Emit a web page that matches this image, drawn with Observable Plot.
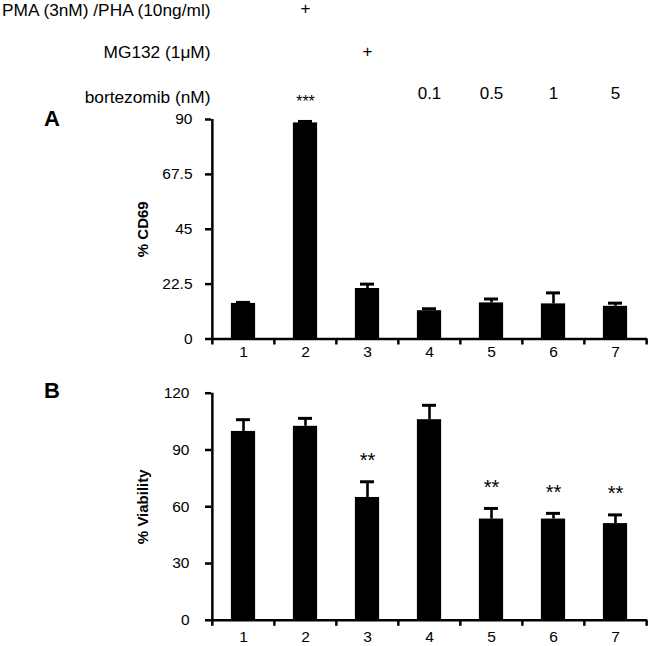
<!DOCTYPE html>
<html><head><meta charset="utf-8">
<script src="https://cdn.jsdelivr.net/npm/d3@7"></script>
<script src="https://cdn.jsdelivr.net/npm/@observablehq/plot@0.6"></script>
<style>
body{margin:0;background:#fff;}
#chart svg{display:block;}
#chart g[aria-label$="tick label"]{font-size:15.5px;}
</style></head><body><div id="chart"></div>
<script>
const categories = ["1","2","3","4","5","6","7"];
const cd69 = [14.6, 88.6, 20.7, 11.6, 14.8, 14.4, 13.4];
const cd69Err = [0.4, 0.6, 1.8, 0.8, 1.6, 4.5, 1.3];
const viability = [99.8, 102.5, 64.9, 106.0, 53.5, 53.5, 51.1];
const viabilityErr = [6.2, 4.2, 8.3, 7.6, 5.6, 3.0, 4.6];
const cd69Ticks = [0, 22.5, 45, 67.5, 90];
const viabilityTicks = [0, 30, 60, 90, 120];
const rowLabels = ["PMA (3nM) /PHA (10ng/ml)", "MG132 (1μM)", "bortezomib (nM)"];
const pmaRow = ["", "+", "", "", "", "", ""];
const mg132Row = ["", "", "+", "", "", "", ""];
const bortezomibRow = ["", "", "", "0.1", "0.5", "1", "5"];
const sigA = ["", "***", "", "", "", "", ""];
const sigB = ["", "", "**", "", "**", "**", "**"];

const W = 652, ML = 211, MR = 5;
const half = (W - ML - MR) / 7 / 2;
const font = "'Liberation Sans', Arial, sans-serif";

function panel({values, errs, sig, ticks, ymax, title, letter, height, marginTop, marginBottom,
                letterDy, labelPad, tickPad, sigSize, sigDy, extra = []}) {
  const data = categories.map((c, i) => ({cat: c, v: values[i], e: errs[i], s: sig[i]}));
  return Plot.plot({
    width: W, height, marginLeft: ML, marginRight: MR, marginTop, marginBottom,
    style: {fontFamily: font, fontSize: "15.5px", color: "black", background: "white", overflow: "visible"},
    x: {domain: categories, padding: 0, label: null},
    y: {domain: [0, ymax], label: null},
    marks: [
      Plot.barY(data, {x: "cat", y: "v", fill: "black", insetLeft: 18.9, insetRight: 18.9}),
      Plot.ruleX(data, {x: "cat", y1: "v", y2: d => d.v + d.e, stroke: "black", strokeWidth: 2.6}),
      Plot.tickY(data, {x: "cat", y: d => d.v + d.e, stroke: "black", strokeWidth: 3, insetLeft: 24, insetRight: 24}),
      Plot.ruleY([0], {stroke: "black", strokeWidth: 2.5}),
      Plot.ruleX([categories[0]], {dx: -half, stroke: "black", strokeWidth: 2.5}),
      Plot.axisX({tickSize: 6, tickFormat: () => "", dx: -half, strokeWidth: 2.5, label: null}),
      Plot.axisX([categories[6]], {tickSize: 6, tickFormat: () => "", dx: half, strokeWidth: 2.5, label: null}),
      Plot.axisX({tickSize: 0, tickPadding: labelPad, fontSize: 15.5, label: null}),
      Plot.axisY(ticks, {tickSize: 6, tickPadding: tickPad, strokeWidth: 2.5, fontSize: 15.5, tickFormat: d => String(d), label: null}),
      Plot.text([title], {frameAnchor: "left", dx: -68, rotate: -90, fontWeight: "bold", fontSize: 15, textAnchor: "middle"}),
      Plot.text([letter], {frameAnchor: "top-left", dx: -159.5, dy: letterDy, lineAnchor: "bottom", fontSize: 22, fontWeight: "bold", textAnchor: "middle"}),
      Plot.text(data, {x: "cat", y: d => d.v + d.e, text: "s", dy: sigDy, fontSize: sigSize}),
      ...extra
    ]
  });
}

const hdr = categories.map((c, i) => ({cat: c, pma: pmaRow[i], mg: mg132Row[i], bz: bortezomibRow[i], sig: sigA[i]}));
const headerMarks = [
  Plot.text([rowLabels[0]], {frameAnchor: "top-left", textAnchor: "end", dx: -1, dy: -116, fontSize: 17.3}),
  Plot.text([rowLabels[1]], {frameAnchor: "top-left", textAnchor: "end", dx: -1, dy: -74, fontSize: 17.3}),
  Plot.text([rowLabels[2]], {frameAnchor: "top-left", textAnchor: "end", dx: -1, dy: -29, fontSize: 17.3}),
  Plot.text(hdr, {x: "cat", text: "pma", frameAnchor: "top", dy: -118, fontSize: 17}),
  Plot.text(hdr, {x: "cat", text: "mg", frameAnchor: "top", dy: -75, fontSize: 17}),
  Plot.text(hdr, {x: "cat", text: "bz", frameAnchor: "top", dy: -33, fontSize: 17}),
  Plot.text(hdr, {x: "cat", text: "sig", frameAnchor: "top", dy: -24, fontSize: 16})
];

const chartA = panel({
  values: cd69, errs: cd69Err, sig: categories.map(() => ""), ticks: cd69Ticks, ymax: 90,
  title: "% CD69", letter: "A", height: 362, marginTop: 119, marginBottom: 23.5,
  letterDy: 6, labelPad: 7, tickPad: 13, sigSize: 16, sigDy: -17, extra: headerMarks
});
const chartB = panel({
  values: viability, errs: viabilityErr, sig: sigB, ticks: viabilityTicks, ymax: 120,
  title: "% Viability", letter: "B", height: 284, marginTop: 30.7, marginBottom: 26.2,
  letterDy: 5, labelPad: 10.5, tickPad: 16, sigSize: 20, sigDy: -21
});
document.getElementById("chart").append(chartA, chartB);
</script></body></html>
